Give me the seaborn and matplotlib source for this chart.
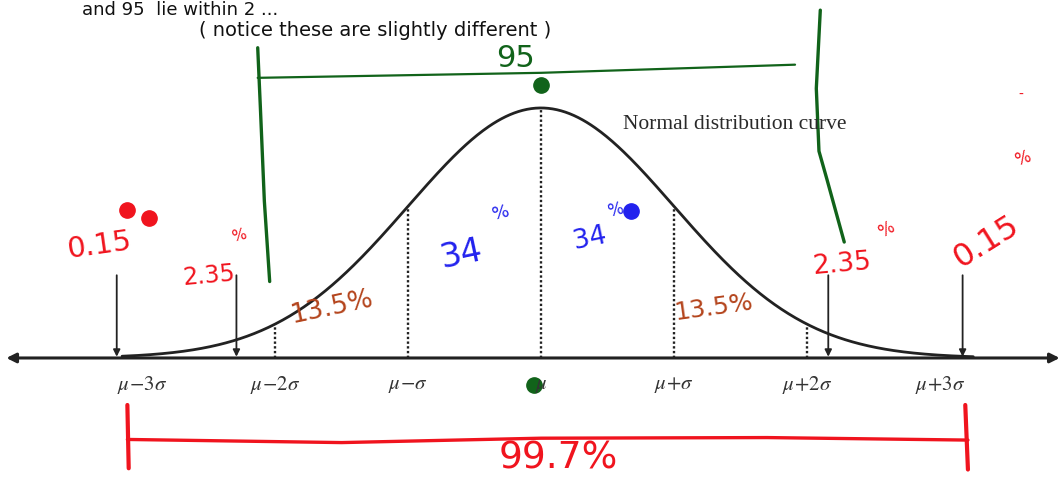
import numpy as np
import pandas as pd
import matplotlib
matplotlib.use("Agg")
import matplotlib.pyplot as plt
import seaborn as sns

# --- data -------------------------------------------------------------
sigma_steps = [-3, -2, -1, 0, 1, 2, 3]
tick_labels = [r"$\mu\!-\!3\sigma$", r"$\mu\!-\!2\sigma$", r"$\mu\!-\!\sigma$", r"$\mu$",
               r"$\mu\!+\!\sigma$", r"$\mu\!+\!2\sigma$", r"$\mu\!+\!3\sigma$"]
dotted_steps = [-2, -1, 0, 1, 2]
tail_arrow_x = [-3.19, -2.29, 2.16, 3.17]
band_labels = ["0.15", "2.35", "13.5", "34", "34", "13.5", "2.35", "0.15"]
within_two = "95"
within_three = "99.7%"

x = np.linspace(-3.15, 3.25, 600)
curve = pd.DataFrame({"x": x, "density": np.exp(-x ** 2 / 2) / np.sqrt(2 * np.pi)})


def pdf(v):
    return np.exp(-v ** 2 / 2) / np.sqrt(2 * np.pi)


# --- figure -----------------------------------------------------------
sns.set_theme(style="white")
plt.rcParams["font.family"] = ["DejaVu Sans"]
plt.rcParams["mathtext.fontset"] = "stix"

fig = plt.figure(figsize=(10.64, 4.8), dpi=100)
ax = fig.add_axes([0, 0, 1, 1])
ax.set_xlim(-541 / 133, 523 / 133)
ax.set_ylim(-0.1947, 0.5712)
ax.axis("off")

ink = "#222222"

# bell curve
sns.lineplot(data=curve, x="x", y="density", ax=ax, color=ink, lw=2.0)

# horizontal axis with arrowheads on both ends
ax.annotate("", xy=(-4.02, 0), xytext=(3.9, 0),
            arrowprops=dict(arrowstyle="<|-|>", color=ink, lw=2.2,
                            mutation_scale=14, shrinkA=0, shrinkB=0))

# dotted guides under the curve
for s in dotted_steps:
    ax.plot([s, s], [0, pdf(s)], ls=(0, (1, 1)), color=ink, lw=1.7)

# small arrows marking the tails
for xa in tail_arrow_x:
    ax.annotate("", xy=(xa, 0.002), xytext=(xa, 0.132),
                arrowprops=dict(arrowstyle="-|>", color=ink, lw=1.3,
                                mutation_scale=10, shrinkA=0, shrinkB=0))

# tick labels
for s, lab in zip(sigma_steps, tick_labels):
    ax.text(s, -0.043, lab, ha="center", va="center", fontsize=15, color="#333333")

ax.text(0.62, 0.372, "Normal distribution curve", fontsize=15.5,
        family="Liberation Serif", color="#2a2a2a", ha="left", va="center")

# handwritten notes
hand = dict(family="DejaVu Sans")
ax.text(-3.45, 0.556, "and 95  lie within 2 ...", fontsize=13, color="#111111",
        ha="left", va="center", **hand)
ax.text(-1.25, 0.522, "( notice these are slightly different )", fontsize=14,
        color="#111111", ha="center", va="center", **hand)

red = "#f0141e"
blue = "#2222ee"
brown = "#b4441c"
green = "#11631a"

# red 0.15% / 2.35% labels
ax.text(-3.32, 0.180, band_labels[0], fontsize=21, color=red, ha="center",
        va="center", rotation=8, **hand)
ax.plot([-3.11, -2.95], [0.236, 0.223], "o", color=red, ms=11)
ax.text(-2.50, 0.132, band_labels[1], fontsize=17, color=red, ha="center",
        va="center", rotation=5, **hand)
ax.text(-2.27, 0.195, "%", fontsize=11, color=red, ha="center", va="center",
        rotation=15, **hand)
ax.text(2.26, 0.150, band_labels[6], fontsize=19, color=red, ha="center",
        va="center", rotation=5, **hand)
ax.text(2.60, 0.205, "%", fontsize=12, color=red, ha="center", va="center",
        rotation=30, **hand)
ax.text(3.35, 0.185, band_labels[7], fontsize=23, color=red, ha="center",
        va="center", rotation=32, **hand)
ax.text(3.62, 0.318, "%", fontsize=12, color=red, ha="center", va="center",
        rotation=20, **hand)
ax.text(3.61, 0.420, "-", fontsize=10, color=red, ha="center", va="center", **hand)

# blue 34% labels
ax.text(-0.60, 0.166, band_labels[3], fontsize=24, color=blue, ha="center",
        va="center", rotation=12, **hand)
ax.text(-0.30, 0.232, "%", fontsize=13, color=blue, ha="center", va="center",
        rotation=15, **hand)
ax.text(0.37, 0.190, band_labels[4], fontsize=19, color=blue, ha="center",
        va="center", rotation=12, **hand)
ax.text(0.56, 0.236, "%", fontsize=12, color=blue, ha="center", va="center",
        rotation=15, **hand)
ax.plot([0.68], [0.235], "o", color=blue, ms=11)

# brown 13.5% labels
ax.text(-1.57, 0.080, band_labels[2] + "%", fontsize=19, color=brown, ha="center",
        va="center", rotation=12, **hand)
ax.text(1.30, 0.080, band_labels[5] + "%", fontsize=18, color=brown, ha="center",
        va="center", rotation=8, **hand)

# green 95% bracket
ax.plot([-2.13, -2.11, -2.08, -2.04], [0.495, 0.40, 0.25, 0.122], color=green, lw=2.4)
ax.plot([-2.13, 0.0, 1.91], [0.447, 0.455, 0.468], color=green, lw=1.6)
ax.plot([2.10, 2.07, 2.09, 2.15, 2.28], [0.555, 0.43, 0.33, 0.285, 0.185],
        color=green, lw=2.4)
ax.text(-0.19, 0.478, within_two, fontsize=22, color=green, ha="center",
        va="center", **hand)
ax.plot([0.0], [0.436], "o", color=green, ms=11)
ax.plot([-0.05], [-0.043], "o", color=green, ms=11)

# red 99.7% bracket
ax.plot([-3.11, -1.5, 0.0, 1.7, 3.21], [-0.130, -0.135, -0.128, -0.127, -0.131],
        color=red, lw=2.4)
ax.plot([-3.11, -3.10], [-0.075, -0.176], color=red, lw=3.0)
ax.plot([3.19, 3.21], [-0.075, -0.178], color=red, lw=3.0)
ax.text(0.13, -0.160, within_three, fontsize=27, color=red, ha="center",
        va="center", **hand)

fig.savefig("out.png", dpi=100, facecolor="white")
